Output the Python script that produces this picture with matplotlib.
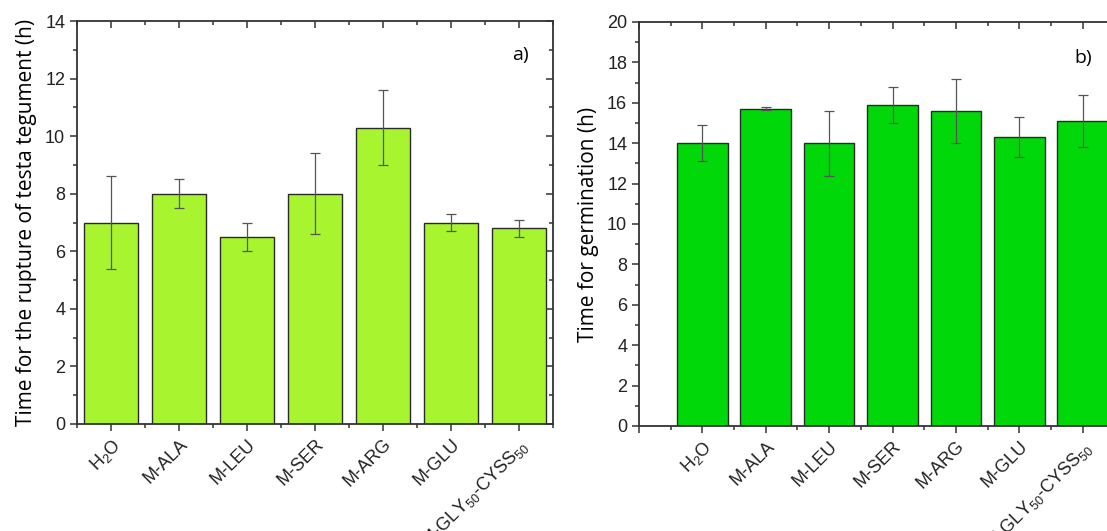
import numpy as np
import matplotlib
matplotlib.use("Agg")
import matplotlib.pyplot as plt
from matplotlib.ticker import MultipleLocator

# data
labels = ['H$_2$O', 'M-ALA', 'M-LEU', 'M-SER', 'M-ARG', 'M-GLU',
          'M-GLY$_{50}$-CYSS$_{50}$']
rupture = [7.0, 8.0, 6.5, 8.0, 10.3, 7.0, 6.8]
rupture_err = [1.6, 0.5, 0.5, 1.4, 1.3, 0.3, 0.3]
germination = [14.0, 15.7, 14.0, 15.9, 15.6, 14.3, 15.1]
germination_err = [0.9, 0.07, 1.6, 0.9, 1.6, 1.0, 1.3]

plt.rcParams['font.family'] = ['Liberation Sans', 'DejaVu Sans']
plt.rcParams['mathtext.fontset'] = 'custom'
plt.rcParams['mathtext.rm'] = 'Liberation Sans'
plt.rcParams['mathtext.it'] = 'Liberation Sans'

AX_COLOR = '#333333'


def style_axis(ax):
  for s in ax.spines.values():
    s.set_linewidth(1.3)
    s.set_color(AX_COLOR)
  ax.tick_params(axis='both', which='both', colors=AX_COLOR, labelcolor='#222222',
                 labelsize=13, width=1.1, direction='out')
  ax.tick_params(axis='x', which='both', top=True)
  ax.tick_params(axis='y', which='both', right=True)
  ax.tick_params(which='major', length=5)
  ax.tick_params(which='minor', length=3)
  # top/right ticks go inward
  for t in ax.xaxis.get_major_ticks() + ax.xaxis.get_minor_ticks():
    t.tick2line.set_marker(3)
  for t in ax.yaxis.get_major_ticks() + ax.yaxis.get_minor_ticks():
    t.tick2line.set_marker(0)


def draw_bars(ax, x, vals, errs, color):
  ax.bar(x, vals, width=0.8, color=color, edgecolor='#2a2a2a', linewidth=1.0, zorder=2)
  ax.errorbar(x, vals, yerr=errs, fmt='none', ecolor='#555555', elinewidth=0.9,
              capsize=3.5, capthick=0.9, zorder=3)


fig = plt.figure(figsize=(11.07, 5.31), dpi=100)
x = np.arange(1, len(labels) + 1)

# panel a
ax1 = fig.add_axes([77 / 1107, 1 - 424 / 531, 476 / 1107, 403 / 531])
draw_bars(ax1, x, rupture, rupture_err, '#a8f52f')
ax1.set_xlim(0.5, 7.5)
ax1.set_ylim(0, 14)
ax1.set_xticks(x)
ax1.set_xticklabels(labels, rotation=45, ha='right', rotation_mode='anchor')
ax1.xaxis.set_minor_locator(MultipleLocator(1, offset=0.5))
ax1.yaxis.set_major_locator(MultipleLocator(2))
ax1.yaxis.set_minor_locator(MultipleLocator(1))
style_axis(ax1)
ax1.set_ylabel('Time for the rupture of testa tegument (h)', family='Open Sans',
               fontsize=15, labelpad=6)
ax1.text(0.931, 0.916, 'a)', transform=ax1.transAxes, family='Open Sans',
         fontsize=14, ha='center', va='center')

# panel b (its right side runs off the picture, as in the reference)
ax2 = fig.add_axes([639 / 1107, 1 - 426 / 531, 507 / 1107, 404 / 531])
draw_bars(ax2, x, germination, germination_err, '#00d80a')
ax2.set_xlim(0, 8)
ax2.set_ylim(0, 20)
ax2.set_xticks(np.arange(0, 9))
ax2.set_xticklabels([''] + labels + [''], rotation=45, ha='right', rotation_mode='anchor')
ax2.xaxis.set_minor_locator(MultipleLocator(1, offset=0.5))
ax2.yaxis.set_major_locator(MultipleLocator(2))
ax2.yaxis.set_minor_locator(MultipleLocator(1))
style_axis(ax2)
ax2.set_ylabel('Time for germination (h)', family='Open Sans', fontsize=15, labelpad=6)
ax2.text(0.876, 0.911, 'b)', transform=ax2.transAxes, family='Open Sans',
         fontsize=14, ha='center', va='center')

fig.savefig('out.png', dpi=100)
